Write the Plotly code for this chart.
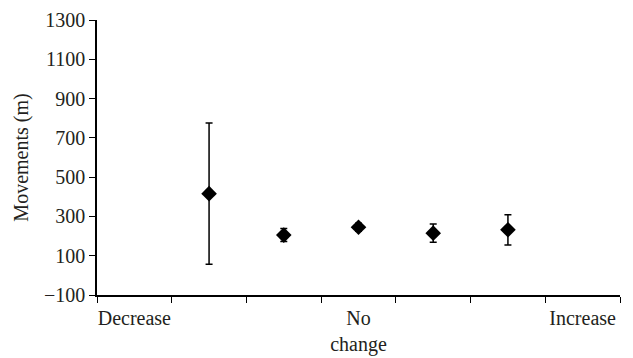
import plotly.graph_objects as go

categories = ["Decrease", "", "", "No<br>change", "", "", "Increase"]
point_positions = [1, 2, 3, 4, 5]
means = [416, 205, 245, 215, 232]
errors = [360, 33, 20, 47, 77]
y_ticks = [-100, 100, 300, 500, 700, 900, 1100, 1300]

FONT = "Liberation Serif"

fig = go.Figure()
fig.add_trace(go.Scatter(
    x=point_positions, y=means, mode="markers",
    marker=dict(symbol="diamond", size=12, color="black"),
    error_y=dict(type="data", array=errors, visible=True, color="black",
                 thickness=1.5, width=3.5),
    showlegend=False,
))

label_idx = [i for i, c in enumerate(categories) if c]
# page body has an 8px margin, so the figure is sized/offset to compensate
fig.update_layout(
    width=625, height=350,
    margin=dict(l=89, r=13, t=12, b=63),
    paper_bgcolor="white", plot_bgcolor="white",
    font=dict(family=FONT, size=20, color="#231f20"),
    xaxis=dict(
        range=[-0.5, len(categories) - 0.5],
        tickvals=label_idx,
        ticktext=[categories[i] for i in label_idx],
        ticks="", showgrid=False, zeroline=False, automargin=False,
        ticklabeloverflow="allow", ticklabelstandoff=4,
        showline=True, linecolor="black", linewidth=1.5,
        minor=dict(tickvals=[i - 0.5 for i in range(len(categories) + 1)],
                   ticks="outside", ticklen=6, tickcolor="black", tickwidth=1.3,
                   showgrid=False),
        fixedrange=True,
    ),
    yaxis=dict(
        range=[-100, 1300],
        tickvals=y_ticks,
        ticktext=[("\u2212" + str(-v)) if v < 0 else str(v) for v in y_ticks],
        ticks="outside", ticklen=6, tickcolor="black", tickwidth=1.3,
        showgrid=False, zeroline=False, automargin=False,
        ticklabeloverflow="allow",
        showline=True, linecolor="black", linewidth=1.5,
        title=dict(text="Movements (m)", font=dict(size=20), standoff=10),
    ),
)

fig.write_html("out.html")
